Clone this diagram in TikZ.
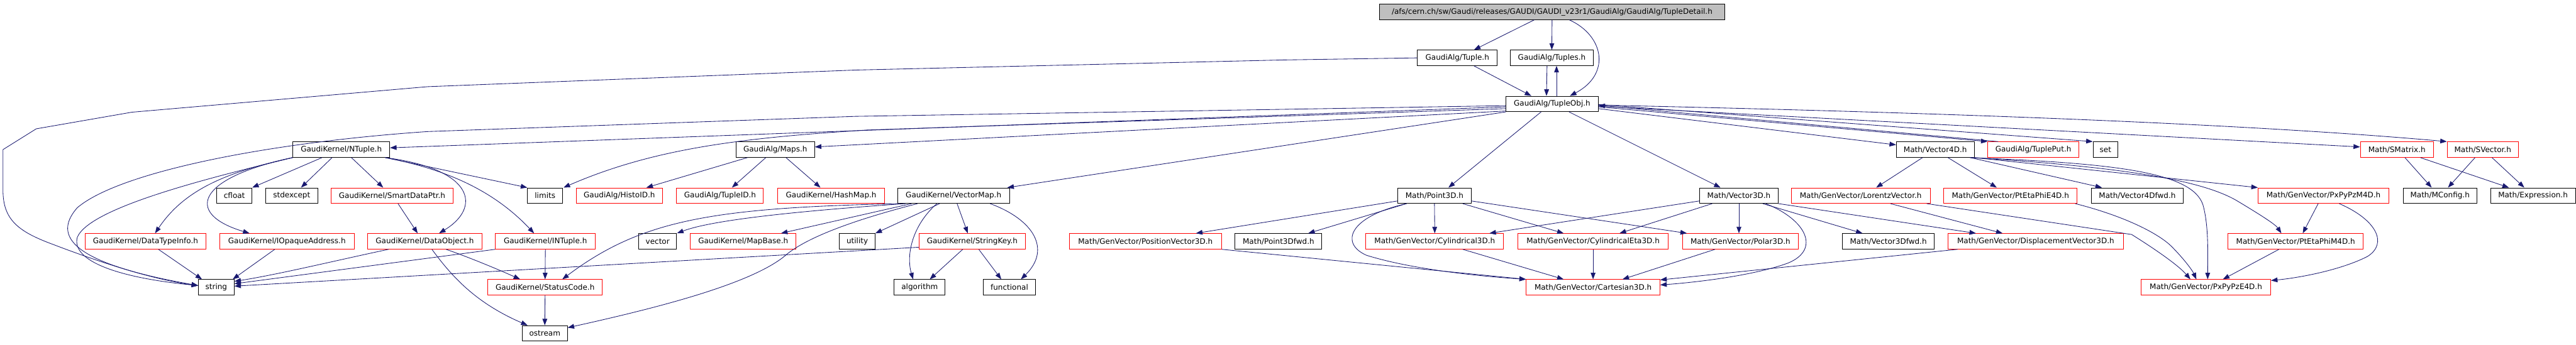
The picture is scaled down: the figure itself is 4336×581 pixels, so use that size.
\documentclass[tikz,border=0pt]{standalone}
\usepackage{fontspec}
\setmainfont{DejaVu Sans}
\usetikzlibrary{arrows.meta}
\definecolor{edgecol}{RGB}{25,25,112}
\definecolor{rootfill}{RGB}{191,191,191}
\newcommand{\gb}[6]{\node[#1,minimum width={(#4)-(#3)}] (#2) at ({((#3)+(#4))/2},#5) {#6};}
\tikzset{
  blk/.style={draw=black, line width=1pt, minimum height=26pt, inner sep=0pt, font=\fontsize{12.7}{15}\selectfont},
  rd/.style={blk, draw=red},
  rootbox/.style={blk, fill=rootfill},
  edge/.style={draw=edgecol, line width=0.9pt, -{Triangle[length=11pt,width=8pt]}}
}
\begin{document}
\begin{tikzpicture}[x=1pt,y=-1pt]
\useasboundingbox (0,0) rectangle (4336,581);
\fill[white] (0,0) rectangle (4336,581);
% rows: 20, 97.5, 175, 252, 329.5, 406.5, 484, 561.5
\gb{rootbox}{top}{2322}{2903}{20}{/afs/cern.ch/sw/Gaudi/releases/GAUDI/GAUDI\_v23r1/GaudiAlg/GaudiAlg/TupleDetail.h}
\gb{blk}{tuple}{2386}{2520}{97.5}{GaudiAlg/Tuple.h}
\gb{blk}{tuples}{2542}{2682}{97.5}{GaudiAlg/Tuples.h}
\gb{blk}{tupleobj}{2535}{2690}{175}{GaudiAlg/TupleObj.h}
\gb{blk}{ntuple}{493}{656}{252}{GaudiKernel/NTuple.h}
\gb{blk}{maps}{1239}{1371}{252}{GaudiAlg/Maps.h}
\gb{blk}{vector4d}{3192}{3323}{252}{Math/Vector4D.h}
\gb{rd}{tupleput}{3346}{3499}{252}{GaudiAlg/TuplePut.h}
\gb{blk}{set}{3523}{3565}{252}{set}
\gb{rd}{smatrix}{3973}{4096}{252}{Math/SMatrix.h}
\gb{rd}{svector}{4119}{4239}{252}{Math/SVector.h}
\gb{blk}{cfloat}{365}{424}{329.5}{cfloat}
\gb{blk}{stdexcept}{447}{535}{329.5}{stdexcept}
\gb{rd}{smartdataptr}{557}{763}{329.5}{GaudiKernel/SmartDataPtr.h}
\gb{blk}{limits}{888}{947}{329.5}{limits}
\gb{rd}{histoid}{970}{1115}{329.5}{GaudiAlg/HistoID.h}
\gb{rd}{tupleid}{1139}{1285}{329.5}{GaudiAlg/TupleID.h}
\gb{rd}{hashmap}{1309}{1489}{329.5}{GaudiKernel/HashMap.h}
\gb{blk}{vectormap}{1511}{1699}{329.5}{GaudiKernel/VectorMap.h}
\gb{blk}{point3d}{2353}{2476}{329.5}{Math/Point3D.h}
\gb{blk}{vector3d}{2861}{2993}{329.5}{Math/Vector3D.h}
\gb{rd}{lorentz}{3015}{3249}{329.5}{Math/GenVector/LorentzVector.h}
\gb{rd}{ptetaphie}{3272}{3496}{329.5}{Math/GenVector/PtEtaPhiE4D.h}
\gb{blk}{vector4dfwd}{3520}{3675}{329.5}{Math/Vector4Dfwd.h}
\gb{rd}{pxpypzm}{3801}{4021}{329.5}{Math/GenVector/PxPyPzM4D.h}
\gb{blk}{mconfig}{4045}{4169}{329.5}{Math/MConfig.h}
\gb{blk}{expression}{4192}{4335}{329.5}{Math/Expression.h}
\gb{rd}{datatypeinfo}{143}{347}{406.5}{GaudiKernel/DataTypeInfo.h}
\gb{rd}{iopaque}{370}{596}{406.5}{GaudiKernel/IOpaqueAddress.h}
\gb{rd}{dataobject}{619}{811}{406.5}{GaudiKernel/DataObject.h}
\gb{rd}{intuple}{834}{1002}{406.5}{GaudiKernel/INTuple.h}
\gb{blk}{vector}{1075}{1139}{406.5}{vector}
\gb{rd}{mapbase}{1162}{1340}{406.5}{GaudiKernel/MapBase.h}
\gb{blk}{utility}{1413}{1473}{406.5}{utility}
\gb{rd}{stringkey}{1547}{1726}{406.5}{GaudiKernel/StringKey.h}
\gb{rd}{positionvector}{1800}{2056}{406.5}{Math/GenVector/PositionVector3D.h}
\gb{blk}{point3dfwd}{2079}{2225}{406.5}{Math/Point3Dfwd.h}
\gb{rd}{cylindrical}{2299}{2531}{406.5}{Math/GenVector/Cylindrical3D.h}
\gb{rd}{cylindricaleta}{2555}{2808}{406.5}{Math/GenVector/CylindricalEta3D.h}
\gb{rd}{polar}{2832}{3027}{406.5}{Math/GenVector/Polar3D.h}
\gb{blk}{vector3dfwd}{3101}{3256}{406.5}{Math/Vector3Dfwd.h}
\gb{rd}{displacement}{3279}{3574}{406.5}{Math/GenVector/DisplacementVector3D.h}
\gb{rd}{ptetaphim}{3750}{3978}{406.5}{Math/GenVector/PtEtaPhiM4D.h}
\gb{blk}{string}{334}{394}{484}{string}
\gb{rd}{statuscode}{821}{1014}{484}{GaudiKernel/StatusCode.h}
\gb{blk}{algorithm}{1505}{1591}{484}{algorithm}
\gb{blk}{functional}{1655}{1743}{484}{functional}
\gb{rd}{cartesian}{2569}{2794}{484}{Math/GenVector/Cartesian3D.h}
\gb{rd}{pxpypze}{3604}{3822}{484}{Math/GenVector/PxPyPzE4D.h}
\gb{blk}{ostream}{879}{955}{561.5}{ostream}
% ---- edges from the root
\draw[edge] ([xshift=-30pt]top.south) -- ([xshift=28pt]tuple.north);
\draw[edge] (top.south) -- (tuples.north);
\draw[edge] ([xshift=29pt]top.south) .. controls (2700,60) and (2712,125) .. ([xshift=30pt]tupleobj.north);
% ---- Tuple / Tuples
\draw[edge] ([xshift=28pt]tuple.south) -- ([xshift=-35pt]tupleobj.north);
\draw[edge] (tuple.west) -- (2160,101) -- (1440,118) -- (720,146) -- (222,189) -- (61,217) -- (5,252) -- (5,320) .. controls (5,370) and (30,390) .. (90,412) .. controls (150,435) and (250,470) .. ([yshift=3pt]string.west);
\draw[edge] ([xshift=-8pt]tuples.south) -- ([xshift=-9.5pt]tupleobj.north);
\draw[edge] ([xshift=7.5pt]tupleobj.north) -- ([xshift=8pt]tuples.south);
% ---- TupleObj to the left
\draw[edge] ([yshift=-5pt]tupleobj.west) -- ([yshift=3pt]ntuple.east);
\draw[edge] ([yshift=-3pt]tupleobj.west) -- (1440,196) -- (720,221.6) .. controls (450,240) and (200,290) .. (130,350) .. controls (95,390) and (100,440) .. ([yshift=3pt]string.west);
\draw[edge] ([yshift=-8pt]tupleobj.west) -- (1460,219) .. controls (1250,232) and (1100,250) .. ([xshift=1pt]limits.north east);
\draw[edge] ([yshift=-12pt]tupleobj.west) -- ([yshift=4.5pt]maps.east);
\draw[edge] (tupleobj.south west) -- ([xshift=-4pt]vectormap.north east);
\draw[edge] ([xshift=-18.5pt]tupleobj.south) -- ([xshift=23.5pt]point3d.north);
\draw[edge] ([xshift=28.5pt]tupleobj.south) -- ([xshift=-31pt]vector3d.north);
% ---- TupleObj to the right
\draw[edge] ([yshift=-8pt]tupleobj.east) -- ([yshift=8pt]vector4d.west);
\draw[edge] ([yshift=-5pt]tupleobj.east) -- (tupleput.north west);
\draw[edge] ([xshift=18pt]tupleput.north west) -- ([yshift=-2.5pt]tupleobj.east);
\draw[edge] ([yshift=-1pt]tupleobj.east) -- (set.north west);
\draw[edge] ([yshift=-2pt]tupleobj.east) .. controls (3300,190) and (3800,210) .. (svector.north west);
\draw[edge] ([yshift=-4pt]tupleobj.east) -- ([yshift=4.5pt]smatrix.west);
% ---- NTuple
\draw[edge] ([xshift=-32.5pt]ntuple.south) -- (cfloat.north east);
\draw[edge] ([xshift=-15.5pt]ntuple.south) -- ([xshift=15.7pt]stdexcept.north);
\draw[edge] ([xshift=17pt]ntuple.south) -- ([xshift=-15pt]smartdataptr.north);
\draw[edge] (ntuple.south west) .. controls (350,300) and (150,350) .. (130,400) .. controls (120,440) and (200,468) .. ([yshift=3pt]string.west);
\draw[edge] (ntuple.south west) .. controls (380,290) and (310,320) .. ([xshift=16pt]datatypeinfo.north);
\draw[edge] (ntuple.south west) .. controls (330,300) and (310,360) .. ([xshift=-63pt]iopaque.north);
\draw[edge] ([xshift=-8pt]ntuple.south east) .. controls (800,285) and (810,350) .. ([xshift=24pt]dataobject.north);
\draw[edge] ([xshift=-8pt]ntuple.south east) .. controls (750,285) and (830,320) .. ([xshift=-19pt]intuple.north);
\draw[edge] ([xshift=-8pt]ntuple.south east) -- (limits.north west);
% ---- GaudiKernel lower part
\draw[edge] ([xshift=10pt]smartdataptr.south) -- ([xshift=-12pt]dataobject.north);
\draw[edge] ([xshift=-61pt]dataobject.south) .. controls (560,440) and (470,462) .. ([yshift=10pt]string.east);
\draw[edge] (intuple.south west) -- ([yshift=6pt]string.east);
\draw[edge] ([yshift=-10pt]stringkey.west) -- ([yshift=2pt]string.east);
\draw[edge] ([xshift=21.6pt]datatypeinfo.south) -- ([xshift=-24pt]string.north);
\draw[edge] ([xshift=-20.5pt]iopaque.south) -- ([xshift=27.7pt]string.north);
\draw[edge] ([xshift=35.7pt]dataobject.south) .. controls (780,430) and (830,450) .. ([xshift=-42pt]statuscode.north);
\draw[edge] ([xshift=12pt]dataobject.south) .. controls (760,465) and (800,510) .. ([xshift=-29pt]ostream.north);
\draw[edge] (intuple.south) -- (statuscode.north);
\draw[edge] (statuscode.south) -- (ostream.north);
% ---- VectorMap
\draw[edge] ([xshift=4pt]vectormap.south west) .. controls (1200,350) and (1080,370) .. ([xshift=29pt]statuscode.north);
\draw[edge] ([xshift=14pt]vectormap.south west) .. controls (1350,355) and (1200,370) .. (vector.north east);
\draw[edge] ([xshift=24pt]vectormap.south west) -- ([xshift=63.6pt]mapbase.north);
\draw[edge] ([xshift=34pt]vectormap.south west) .. controls (1420,375) and (1350,405) .. (1320,432) .. controls (1260,480) and (1100,520) .. ([yshift=9.5pt]ostream.east);
\draw[edge] ([xshift=-23.4pt]vectormap.south) -- (utility.north east);
\draw[edge] ([xshift=-28pt]vectormap.south) .. controls (1535,380) and (1525,430) .. ([xshift=-11pt]algorithm.north);
\draw[edge] ([xshift=6pt]vectormap.south) -- ([xshift=-7.5pt]stringkey.north);
\draw[edge] ([xshift=61.5pt]vectormap.south) .. controls (1740,370) and (1770,420) .. ([xshift=19.4pt]functional.north);
\draw[edge] ([xshift=-16pt]stringkey.south) -- ([xshift=17pt]algorithm.north);
\draw[edge] ([xshift=11pt]stringkey.south) -- ([xshift=-13.6pt]functional.north);
% ---- Maps
\draw[edge] ([xshift=-47pt]maps.south) -- ([xshift=45.5pt]histoid.north);
\draw[edge] ([xshift=-16pt]maps.south) -- ([xshift=20pt]tupleid.north);
\draw[edge] ([xshift=18pt]maps.south) -- ([xshift=-18pt]hashmap.north);
% ---- Point3D
\draw[edge] ([xshift=-47pt]point3d.south) -- ([xshift=50pt]point3dfwd.north);
\draw[edge] ([yshift=-9pt]point3d.west) -- ([xshift=85pt]positionvector.north);
\draw[edge] (point3d.south) -- (cylindrical.north);
\draw[edge] ([xshift=47.5pt]point3d.south) -- ([xshift=-49.5pt]cylindricaleta.north);
\draw[edge] ([yshift=-9pt]point3d.east) -- ([xshift=-90pt]polar.north);
\draw[edge] ([xshift=-47pt]point3d.south) .. controls (2270,365) and (2255,410) .. (2300,430) .. controls (2380,455) and (2500,466) .. (cartesian.north west);
\draw[edge] (positionvector.south east) -- (cartesian.north west);
\draw[edge] ([xshift=47pt]cylindrical.south) -- ([xshift=-49.5pt]cartesian.north);
\draw[edge] (cylindricaleta.south) -- (cartesian.north);
\draw[edge] ([xshift=-42.7pt]polar.south) -- ([xshift=49.5pt]cartesian.north);
% ---- Vector3D
\draw[edge] ([yshift=-9pt]vector3d.west) -- ([xshift=92pt]cylindrical.north);
\draw[edge] ([xshift=-45pt]vector3d.south) -- ([xshift=44.5pt]cylindricaleta.north);
\draw[edge] (vector3d.south) -- ([xshift=-2.5pt]polar.north);
\draw[edge] ([xshift=40pt]vector3d.south) -- ([xshift=-43.5pt]vector3dfwd.north);
\draw[edge] (vector3d.south east) -- ([xshift=-100.5pt]displacement.north);
\draw[edge] ([xshift=45pt]vector3d.south) .. controls (3040,370) and (3065,420) .. (3010,443) .. controls (2950,465) and (2850,476) .. ([yshift=4pt]cartesian.east);
\draw[edge] ([xshift=-131.5pt]displacement.south) -- ([yshift=-1pt]cartesian.north east);
% ---- Vector4D
\draw[edge] ([xshift=-21.5pt]vector4d.south) -- ([xshift=26pt]lorentz.north);
\draw[edge] ([xshift=21.3pt]vector4d.south) -- ([xshift=-23pt]ptetaphie.north);
\draw[edge] ([xshift=59pt]vector4d.south) -- ([xshift=-59.5pt]vector4dfwd.north);
\draw[edge] (vector4d.south east) -- (pxpypzm.north west);
\draw[edge] ([xshift=-4pt]vector4d.south east) .. controls (3550,280) and (3700,300) .. (3765,338) .. controls (3805,362) and (3830,378) .. ([xshift=-24pt]ptetaphim.north);
\draw[edge] ([xshift=-8pt]vector4d.south east) .. controls (3560,275) and (3690,290) .. (3708,345) .. controls (3718,380) and (3716,430) .. ([xshift=3pt]pxpypze.north);
% ---- 4D coordinate systems
\draw[edge] ([xshift=50pt]lorentz.south) -- ([xshift=-55.7pt]displacement.north);
\draw[edge] ([xshift=111pt]lorentz.south) -- (3588,395) .. controls (3620,415) and (3665,445) .. ([xshift=-26pt]pxpypze.north);
\draw[edge] ([xshift=109pt]ptetaphie.south) .. controls (3580,365) and (3635,395) .. (3655,415) .. controls (3675,435) and (3690,455) .. ([xshift=-16pt]pxpypze.north);
\draw[edge] ([xshift=-9pt]pxpypzm.south) -- ([xshift=12pt]ptetaphim.north);
\draw[edge] ([xshift=26.4pt]pxpypzm.south) .. controls (4000,370) and (4020,410) .. (3985,432) .. controls (3940,455) and (3870,468) .. ([yshift=-2pt]pxpypze.north east);
\draw[edge] ([xshift=-28pt]ptetaphim.south) -- ([xshift=28.6pt]pxpypze.north);
% ---- SMatrix / SVector
\draw[edge] ([xshift=13.5pt]smatrix.south) -- ([xshift=-14pt]mconfig.north);
\draw[edge] ([xshift=39.5pt]smatrix.south) -- ([xshift=-40.5pt]expression.north);
\draw[edge] ([xshift=-13pt]svector.south) -- ([xshift=13.5pt]mconfig.north);
\draw[edge] ([xshift=15.6pt]svector.south) -- ([xshift=-14.5pt]expression.north);
\end{tikzpicture}
\end{document}
